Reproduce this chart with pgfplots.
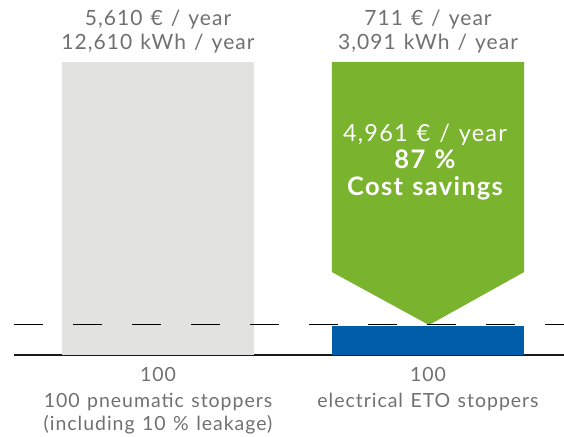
\documentclass[border=0pt]{standalone}
\usepackage{pgfplots}
\pgfplotsset{compat=1.18}
\usepackage{fontspec}
\setmainfont{Lato}[WordSpace=1.25, LetterSpace=5]
\definecolor{txtgray}{RGB}{112,112,112}
\definecolor{bargray}{RGB}{226,226,224}
\definecolor{barblue}{RGB}{0,93,169}
\definecolor{arrgreen}{RGB}{122,179,46}
\tikzset{lbl/.style={anchor=base, inner sep=0pt, text=txtgray, font=\fontsize{21bp}{24bp}\selectfont},
  blbl/.style={anchor=base, inner sep=0pt, text=txtgray, font=\fontsize{19.5bp}{24bp}\selectfont},
  wlbl/.style={anchor=base, inner sep=0pt, text=white, font=\fontsize{23.5bp}{27bp}\selectfont}}
\begin{document}
\begin{tikzpicture}
\begin{axis}[
  at={(14bp,82bp)}, anchor=south west,
  scale only axis, width=550bp, height=293bp,
  xmin=-0.5333, xmax=1.5037, ymin=0, ymax=100,
  axis x line*=bottom, hide y axis,
  axis line style={black!90, line width=1.2bp, -},
  xtick=\empty, ytick=\empty,
  clip=false,
]
\addplot[ybar, bar width=192bp, bar shift=0pt, fill=bargray, draw=none] coordinates {(0,100)};
\addplot[ybar, bar width=192bp, bar shift=0pt, fill=barblue, draw=none] coordinates {(1,9.9)};
\addplot[fill=arrgreen, draw=none] coordinates {(0.6444,100) (1.3556,100) (1.3556,28.3) (1.0037,10.24) (0.6444,28.3)} -- cycle;
\addplot[black, line width=1bp, dash pattern=on 29bp off 30bp] coordinates {(-0.5333,10.24) (1.5037,10.24)};
% top labels
\node[lbl] at (axis cs:0,112.3) {5,610 € / year};
\node[lbl] at (axis cs:0,104.1) {12,610 kWh / year};
\node[lbl] at (axis cs:1,112.3) {711 € / year};
\node[lbl] at (axis cs:1,104.1) {3,091 kWh / year};
% arrow text
\node[wlbl] at (axis cs:0.989,73.0) {4,961 € / year};
\node[wlbl, font=\fontsize{25.5bp}{27bp}\selectfont\bfseries] at (axis cs:0.989,63.8) {87 \%};
\node[wlbl, font=\fontsize{25.5bp}{27bp}\selectfont\bfseries] at (axis cs:0.989,54.3) {Cost savings};
% bottom labels
\node[blbl] at (axis cs:0,-9.2) {100};
\node[blbl] at (axis cs:0,-17.75) {100 pneumatic stoppers};
\node[blbl] at (axis cs:0,-25.9) {(including 10 \% leakage)};
\node[blbl] at (axis cs:1,-9.2) {100};
\node[blbl] at (axis cs:1,-17.75) {electrical ETO stoppers};
\end{axis}
\pgfresetboundingbox
\path[use as bounding box] (0,0) rectangle (564bp,437bp);
\end{tikzpicture}
\end{document}
